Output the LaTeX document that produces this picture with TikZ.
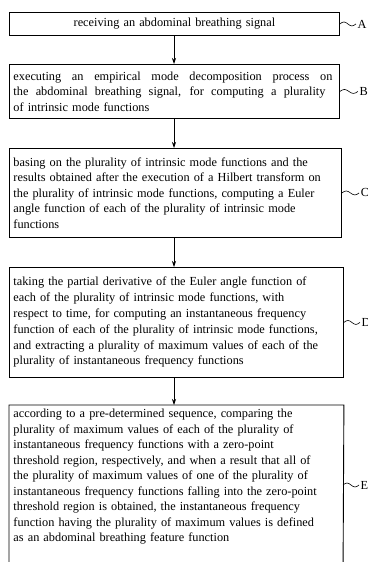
\documentclass[tikz,border=0pt]{standalone}
\usepackage{fontspec}
\setmainfont{Liberation Serif}
\usetikzlibrary{arrows.meta}
\begin{document}
\begin{tikzpicture}[x=1pt,y=1pt,
  stepbox/.style={draw, line width=0.9pt, anchor=north west, text width=322pt,
    inner xsep=4pt, inner ysep=4pt, align=left, font=\fontsize{12.3pt}{15.5pt}\selectfont},
  flowarrow/.style={line width=0.7pt, -{Stealth[length=6pt,width=4pt]}},
  wavy/.style={line width=0.6pt},
  steplabel/.style={anchor=west, inner sep=0pt, font=\fontsize{12.3pt}{14pt}\selectfont}]
\useasboundingbox (0,0) rectangle (367,-562);
\clip (0,0) rectangle (367,-562);

\node[stepbox, minimum height=54pt] (B) at (9,-64) {\leavevmode\hbox to 319pt{\spaceskip=.25em plus 3em\relax executing an empirical mode decomposition process on}\\
\leavevmode\hbox to 312pt{\spaceskip=.25em plus 3em\relax the abdominal breathing signal, for computing a plurality}\\
of intrinsic mode functions};
\node[stepbox, minimum height=23pt, align=center] (A) at (9,-12) {receiving an abdominal breathing signal};
\node[stepbox, minimum height=89pt, text width=324pt] (C) at (9,-148) {basing on the plurality of intrinsic mode functions and the\\
results obtained after the execution of a Hilbert transform on\\
the plurality of intrinsic mode functions, computing a Euler\\
angle function of each of the plurality of intrinsic mode\\
functions};
\node[stepbox, minimum height=110pt, text width=326pt, font=\fontsize{12.3pt}{15.8pt}\selectfont] (D) at (9,-267) {taking the partial derivative of the Euler angle function of\\
each of the plurality of intrinsic mode functions, with\\
respect to time, for computing an instantaneous frequency\\
function of each of the plurality of intrinsic mode functions,\\
and extracting a plurality of maximum values of each of the\\
plurality of instantaneous frequency functions};
\node[stepbox, draw=none, text width=326pt] (E) at (9,-405) {according to a pre-determined sequence, comparing the\\
plurality of maximum values of each of the plurality of\\
instantaneous frequency functions with a zero-point\\
threshold region, respectively, and when a result that all of\\
the plurality of maximum values of one of the plurality of\\
instantaneous frequency functions falling into the zero-point\\
threshold region is obtained, the instantaneous frequency\\
function having the plurality of maximum values is defined\\
as an abdominal breathing feature function};
\coordinate (Ebl) at (9,-580);
\coordinate (Ebr) at (343,-580);
\draw[line width=0.9pt] (Ebl) |- (E.north east) -- (Ebr);

\coordinate (col) at (174,0);
\draw[flowarrow] (A.south -| col) -- (B.north -| col);
\draw[flowarrow] (B.south -| col) -- (C.north -| col);
\draw[flowarrow] (C.south -| col) -- (D.north -| col);
\draw[flowarrow] (D.south -| col) -- (E.north -| col);

\coordinate (wE) at (343,-485);
\foreach \n/\p/\w in {A/A.east/4, B/B.east/4.5, C/C.east/4.3, D/D.east/4, E/wE/4} {
  \draw[wavy] (\p) sin ++(\w,2) cos ++(\w,-2) sin ++(\w,-2) cos ++(\w,2) coordinate (t\n);
  \node[steplabel] (L\n) at ([xshift=1.5pt]t\n) {\n};
}
\end{tikzpicture}
\end{document}
